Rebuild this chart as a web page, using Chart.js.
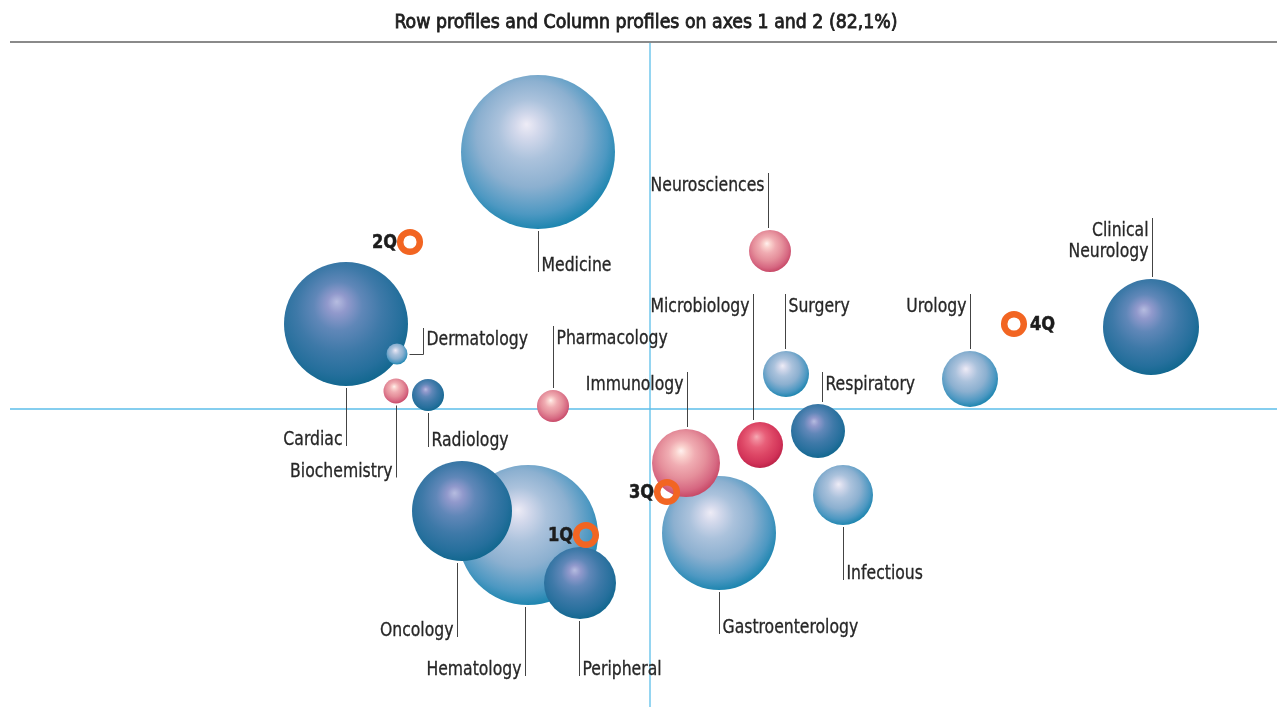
<!DOCTYPE html>
<html>
<head>
<meta charset="utf-8">
<title>Row profiles and Column profiles</title>
<script src="https://cdn.jsdelivr.net/npm/chart.js@4.4.1/dist/chart.umd.min.js"></script>
<style>
  html, body { margin: 0; padding: 0; background: #fff; }
  #wrap { width: 1277px; height: 707px; position: relative; }
</style>
</head>
<body>
<div id="wrap"><canvas id="Chart" width="1277" height="707"></canvas></div>
<script>
// categories (column + row profiles), coordinates on axes 1 and 2
const categories = ["Medicine", "Neurosciences", "Clinical\nNeurology", "Urology", "Surgery",
  "Pharmacology", "Cardiac", "Dermatology", "Biochemistry", "Radiology",
  "Respiratory", "Microbiology", "Infectious", "Gastroenterology", "Immunology",
  "Hematology", "Oncology", "Peripheral"];
const axis1 = [-0.56, 0.60, 2.505, 1.60, 0.68,
  -0.485, -1.52, -1.265, -1.27, -1.11,
  0.84, 0.55, 0.965, 0.345, 0.18,
  -0.61, -0.94, -0.35];
const axis2 = [1.285, 0.79, 0.41, 0.15, 0.175,
  0.015, 0.425, 0.275, 0.09, 0.07,
  -0.11, -0.18, -0.43, -0.62, -0.27,
  -0.63, -0.51, -0.87];
const weights = [77, 21, 48, 28, 23,
  16, 62, 10.5, 12.5, 16,
  27, 23, 30, 57, 34,
  70, 50, 36];
// colour family of each bubble
const kinds = ["light", "pink", "dark", "light", "light",
  "pink", "dark", "light", "pink", "dark",
  "dark", "red", "light", "light", "pink",
  "light", "dark", "dark"];

// quarters (row profiles)
const quarters = ["1Q", "2Q", "3Q", "4Q"];
const quarterAxis1 = [-0.32, -1.20, 0.085, 1.82];
const quarterAxis2 = [-0.63, 0.835, -0.415, 0.425];

const title = "Row profiles and Column profiles on axes 1 and 2 (82,1%)";

// leader lines: direction, line length from bubble edge, text side, x shift of the line
const labelLayout = [
  ["down", 43, "right", 0], ["up", 57, "left", -2], ["up", 61, "left", 1], ["up", 57, "left", 0], ["up", 57, "right", -1],
  ["up", 64, "right", 0], ["down", 60, "left", 0], ["elbow", 0, "right", 0], ["down", 74, "left", 0], ["down", 36, "right", 0],
  ["up", 32, "right", 4], ["up", 128, "left", -7], ["down", 55, "right", 0], ["down", 44, "right", 0], ["up", 57, "left", 1],
  ["down", 71, "left", -3], ["down", 76, "left", -5], ["down", 57, "right", -1]
];
const quarterSide = ["left", "left", "left", "right"];

const palettes = {
  light: ["#eeecf6", "#d2d8eb", "#abc2dc", "#8cb0d0", "#4d98c2", "#1f86b0"],
  dark:  ["#b6bce0", "#9199cc", "#6087b8", "#3e79a8", "#256f9c", "#136890"],
  pink:  ["#fff1ef", "#fad2ce", "#f0acb2", "#e58f9b", "#d66781", "#c84a68"],
  red:   ["#f6aab4", "#f08698", "#e85f79", "#dd4665", "#d13258", "#bd2449"]
};
const stopAt = [0, 0.14, 0.34, 0.6, 0.86, 1];

const fontFamily = "'DejaVu Sans Condensed', 'Liberation Sans Narrow', sans-serif";
const labelFont = "20px " + fontFamily;
const quarterFont = "bold 19px " + fontFamily;
const squeeze = 0.87;

// condensed text: squeeze horizontally around the anchor
function narrowText(ctx, text, x, y, sx, weight) {
  ctx.save();
  ctx.translate(x, y);
  ctx.scale(sx, 1);
  if (weight) {
    ctx.lineWidth = weight;
    ctx.strokeStyle = ctx.fillStyle;
    ctx.strokeText(text, 0, 0);
  }
  ctx.fillText(text, 0, 0);
  ctx.restore();
}

function sphere(context) {
  const chart = context.chart;
  const raw = context.raw;
  if (!chart.chartArea || !raw) return "#7aa7cc";
  const cx = chart.scales.x.getPixelForValue(raw.x);
  const cy = chart.scales.y.getPixelForValue(raw.y);
  const r = raw.r;
  const stops = palettes[kinds[context.dataIndex]];
  const g = chart.ctx.createRadialGradient(cx - 0.15 * r, cy - 0.36 * r, 0, cx - 0.08 * r, cy - 0.15 * r, r * 1.15);
  stops.forEach((c, k) => g.addColorStop(stopAt[k], c));
  return g;
}

const frame = {
  id: "frame",
  beforeDatasetsDraw(chart) {
    const ctx = chart.ctx;
    const a = chart.chartArea;
    const x0 = chart.scales.x.getPixelForValue(0);
    const y0 = chart.scales.y.getPixelForValue(0);
    ctx.save();
    ctx.fillStyle = "#1e1e1e";
    ctx.font = "20px " + fontFamily;
    ctx.textAlign = "center";
    ctx.textBaseline = "middle";
    narrowText(ctx, title, 646, 23, 0.965, 0.8);
    ctx.strokeStyle = "#5dbfea";
    ctx.lineWidth = 1.3;
    ctx.beginPath();
    ctx.moveTo(x0, a.top); ctx.lineTo(x0, a.bottom);
    ctx.moveTo(a.left, y0); ctx.lineTo(a.right, y0);
    ctx.stroke();
    ctx.strokeStyle = "#8a8a8a";
    ctx.lineWidth = 2;
    ctx.beginPath();
    ctx.moveTo(a.left, a.top); ctx.lineTo(a.right, a.top);
    ctx.stroke();
    ctx.restore();
  },
  afterDatasetsDraw(chart) {
    const ctx = chart.ctx;
    ctx.save();
    ctx.font = labelFont;
    ctx.fillStyle = "#262626";
    chart.getDatasetMeta(0).data.forEach((el, i) => {
      const [dir, len, side, dx] = labelLayout[i];
      const r = weights[i];
      const lx = Math.round(el.x + dx) + 0.5;
      const lines = categories[i].split("\n");
      ctx.textAlign = side === "right" ? "left" : "right";
      const tx = side === "right" ? lx + 3 : lx - 4;
      ctx.strokeStyle = "#444";
      ctx.lineWidth = 1;
      ctx.beginPath();
      if (dir === "elbow") {
        const ex = el.x + r + 2;
        const vx = Math.round(ex + 13) + 0.5;
        ctx.moveTo(ex, el.y + 0.5); ctx.lineTo(vx, el.y + 0.5);
        ctx.lineTo(vx, el.y - 26);
        ctx.stroke();
        ctx.textAlign = "left";
        narrowText(ctx, lines[0], vx + 3, el.y - 9, squeeze, 0.3);
        return;
      }
      let y1, y2;
      if (dir === "down") {
        y1 = el.y + r + 2; y2 = el.y + r + len;
      } else {
        y1 = el.y - r - 2; y2 = el.y - r - len;
      }
      ctx.moveTo(lx, y1); ctx.lineTo(lx, y2);
      ctx.stroke();
      if (dir === "down") {
        lines.forEach((t, k) => narrowText(ctx, t, tx, y2 - 1 - (lines.length - 1 - k) * 21, squeeze, 0.3));
      } else {
        lines.forEach((t, k) => narrowText(ctx, t, tx, y2 + 18 + k * 21, squeeze, 0.3));
      }
    });
    ctx.font = quarterFont;
    ctx.fillStyle = "#1c1c1c";
    ctx.textBaseline = "middle";
    chart.getDatasetMeta(1).data.forEach((el, i) => {
      if (quarterSide[i] === "left") {
        ctx.textAlign = "right";
        narrowText(ctx, quarters[i], el.x - 13, el.y + 1, 0.95, 0.5);
      } else {
        ctx.textAlign = "left";
        narrowText(ctx, quarters[i], el.x + 16, el.y + 1, 0.95, 0.5);
      }
    });
    ctx.restore();
  }
};

const bubbles = categories.map((c, i) => ({ x: axis1[i], y: axis2[i], r: weights[i] }));
const rings = quarters.map((q, i) => ({ x: quarterAxis1[i], y: quarterAxis2[i], r: 9.8 }));

new Chart("Chart", {
  type: "bubble",
  data: {
    datasets: [{
      data: bubbles,
      backgroundColor: sphere,
      borderWidth: 0,
      hoverRadius: 0,
      order: 2
    }, {
      data: rings,
      backgroundColor: "rgba(0,0,0,0)",
      borderColor: "#f26522",
      borderWidth: 6.5,
      hoverRadius: 0,
      order: 1
    }]
  },
  options: {
    responsive: false,
    animation: false,
    events: [],
    layout: { autoPadding: false, padding: { left: 10, top: 42, right: 0, bottom: 0 } },
    plugins: { legend: { display: false }, tooltip: { enabled: false } },
    scales: {
      x: { display: false, min: -3.2, max: 3.135 },
      y: { display: false, min: -1.49, max: 1.835 }
    }
  },
  plugins: [frame]
});
</script>
</body>
</html>
